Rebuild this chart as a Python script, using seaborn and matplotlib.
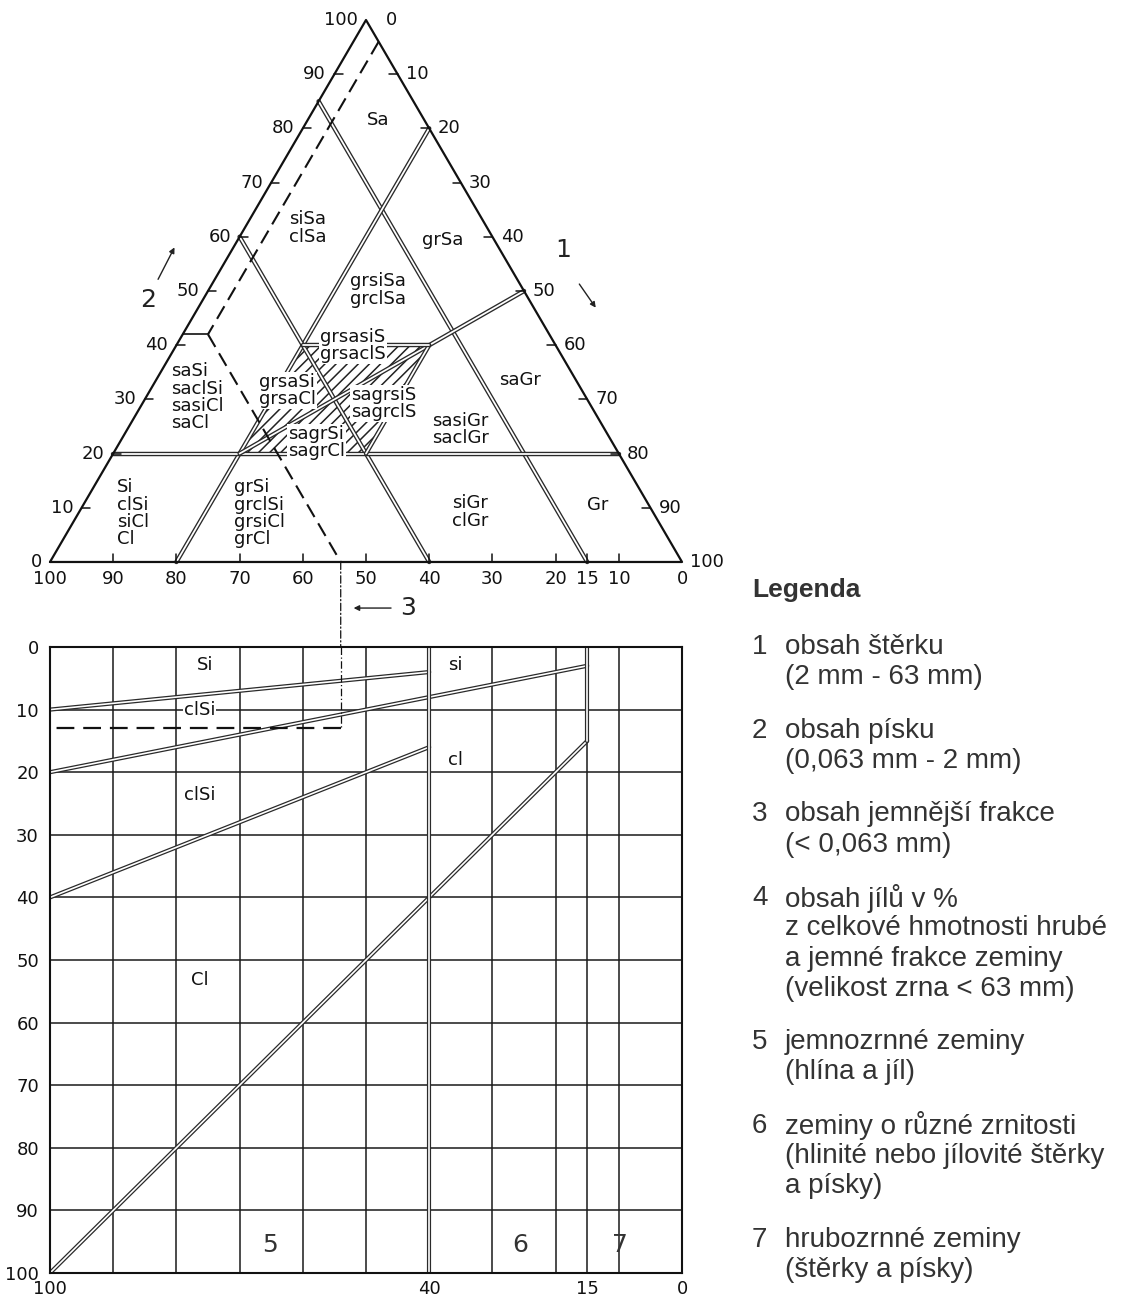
import numpy as np
import seaborn as sns
import matplotlib.pyplot as plt
from matplotlib.patches import ConnectionPatch

sns.set_theme(style="white")
plt.rcParams['font.family'] = ['Liberation Sans Narrow', 'DejaVu Sans']
plt.rcParams['hatch.linewidth'] = 1.1
plt.rcParams['hatch.color'] = '#222222'

# --- ternary diagram (gravel %, sand %), fines = 100 - gravel - sand ---
# boundary lines: start and end points
bound_g0 = [0, 20, 0, 0, 50, 40, 20]
bound_s0 = [85, 80, 60, 20, 50, 40, 40]
bound_g1 = [85, 20, 60, 80, 20, 40, 40]
bound_s1 = [0, 0, 0, 20, 20, 20, 40]

# hatched field (mixed soils)
hatch_g = [20, 40, 40, 20]
hatch_s = [40, 40, 20, 20]

# soil names in the ternary diagram
tern_names = ["Sa", "siSa\nclSa", "grSa", "grsiSa\ngrclSa", "grsasiS\ngrsaclS",
              "grsaSi\ngrsaCl", "sagrsiS\nsagrclS", "sagrSi\nsagrCl",
              "saSi\nsaclSi\nsasiCl\nsaCl", "sasiGr\nsaclGr", "saGr",
              "Si\nclSi\nsiCl\nCl", "grSi\ngrclSi\ngrsiCl\ngrCl", "siGr\nclGr", "Gr"]
tern_name_g = [11.2, 10.0, 32.5, 26.8, 27.9, 21.7, 38.1, 31.2, 8.1, 52.7, 57.6, 8.6, 28.7, 61.9, 81.4]
tern_name_s = [81.5, 61.6, 59.4, 50.2, 40.0, 31.7, 29.3, 22.0, 30.4, 24.4, 33.6, 9.0, 9.0, 9.2, 10.5]
boxed_names = ["grsasiS\ngrsaclS", "grsaSi\ngrsaCl", "sagrsiS\nsagrclS", "sagrSi\nsagrCl"]

tick_vals = list(range(0, 101, 10))
bottom_vals = [100, 90, 80, 70, 60, 50, 40, 30, 20, 15, 10, 0]

# worked example: gravel 4 %, sand 42 %, fines 54 %, clay 13 %
ex_gravel = 4
ex_sand = 42
ex_fines = 54
ex_clay = 13

# --- lower chart: fines % (x) vs clay % (y) ---
clay_f0 = [100, 100, 100, 100, 40, 15]
clay_c0 = [10, 20, 40, 100, 0, 0]
clay_f1 = [40, 15, 40, 15, 40, 15]
clay_c1 = [4, 3, 16, 15, 100, 15]
grid_fines = [90, 80, 70, 60, 50, 40, 30, 20, 15, 10]
grid_clay = [10, 20, 30, 40, 50, 60, 70, 80, 90]
chart_names = ["Si", "si", "clSi", "cl", "clSi", "Cl"]
chart_name_f = [75.5, 35.9, 76.3, 35.9, 76.3, 76.3]
chart_name_c = [2.9, 2.9, 10.1, 18.1, 23.6, 53.2]
zone_names = ["5", "6", "7"]
zone_f = [65.2, 25.6, 9.8]
zone_c = [95.5, 95.5, 95.5]

legend_nums = ["1", "2", "3", "4", "5", "6", "7"]
legend_text = [
    ["obsah štěrku", "(2 mm - 63 mm)"],
    ["obsah písku", "(0,063 mm - 2 mm)"],
    ["obsah jemnější frakce", "(< 0,063 mm)"],
    ["obsah jílů v %", "z celkové hmotnosti hrubé", "a jemné frakce zeminy",
     "(velikost zrna < 63 mm)"],
    ["jemnozrnné zeminy", "(hlína a jíl)"],
    ["zeminy o různé zrnitosti", "(hlinité nebo jílovité štěrky", "a písky)"],
    ["hrubozrnné zeminy", "(štěrky a písky)"],
]

W, H = 1124, 1300
fig = plt.figure(figsize=(W / 100, H / 100), dpi=100)
fig.patch.set_facecolor('white')


def txy(g, s):
    g = np.asarray(g, dtype=float)
    s = np.asarray(s, dtype=float)
    return g + s / 2, s


def line(ax, x, y, color='#111111', lw=1.5, ls='-'):
    x = np.asarray(x, dtype=float).ravel()
    y = np.asarray(y, dtype=float).ravel()
    sns.lineplot(x=x, y=y, ax=ax, color=color, linewidth=lw, linestyle=ls,
                 sort=False, estimator=None)


def double_line(ax, x, y, lw=3.2):
    line(ax, x, y, color='#2a2a2a', lw=lw)
    line(ax, x, y, color='white', lw=lw * 0.4)


# ================= ternary =================
ax_t = fig.add_axes([0, 1 - 630 / H, 720 / W, 630 / H])

hx, hy = txy(hatch_g, hatch_s)
ax_t.fill(hx, hy, facecolor='none', edgecolor='#222222', hatch='///', lw=0)

for g0, s0, g1, s1 in zip(bound_g0, bound_s0, bound_g1, bound_s1):
    x, y = txy([g0, g1], [s0, s1])
    double_line(ax_t, x, y)

# outline
line(ax_t, [0, 50, 100, 0], [0, 100, 0, 0], lw=1.6)

# example dashed lines
x, y = txy([ex_gravel, ex_gravel], [100 - ex_gravel, ex_sand])
line(ax_t, x, y, lw=1.5, ls=(0, (7, 3.5)))
x, y = txy([ex_gravel, 100 - ex_fines], [ex_sand, 0])
line(ax_t, x, y, lw=1.5, ls=(0, (7, 3.5)))
x, y = txy([0, ex_gravel], [ex_sand, ex_sand])
line(ax_t, x, y, lw=1.2)

tk = dict(fontsize=13, color='#111111')
for v in tick_vals:
    # sand on left edge
    x, y = txy(0, v)
    ax_t.annotate(str(v), (float(x), float(y)), xytext=(-6, 0), textcoords='offset points',
                  ha='right', va='center', **tk)
    if 0 < v < 100:
        line(ax_t, [x, x + 1.3], [y, y], lw=1.1)
    # gravel on right edge
    x, y = txy(v, 100 - v)
    off = 14 if v == 0 else 6
    ax_t.annotate(str(v), (float(x), float(y)), xytext=(off, 0), textcoords='offset points',
                  ha='left', va='center', **tk)
    if 0 < v < 100:
        line(ax_t, [x, x - 1.3], [y, y], lw=1.1)
for v in bottom_vals:
    x, y = txy(100 - v, 0)
    ax_t.annotate(str(v), (float(x), float(y)), xytext=(0, -6), textcoords='offset points',
                  ha='center', va='top', **tk)
    if 0 < v < 100:
        line(ax_t, [x, x], [0, 1.4], lw=1.1)

for name, g, s in zip(tern_names, tern_name_g, tern_name_s):
    x, y = txy(g, s)
    box = dict(facecolor='white', edgecolor='none', pad=0.6) if name in boxed_names else None
    ax_t.text(float(x), float(y), name, ha='center', va='center', multialignment='left',
              fontsize=13, linespacing=0.95, color='#111111', bbox=box)

# axis captions 1, 2, 3 with arrows
ax_t.text(15.5, 48.3, "2", fontsize=18, ha='center', va='center', color='#222222')
ax_t.annotate("", xy=(19.9, 58.5), xytext=(16.9, 51.7),
              arrowprops=dict(arrowstyle='-|>', color='#222222', lw=1.0, mutation_scale=8))
ax_t.text(81.2, 57.6, "1", fontsize=18, ha='center', va='center', color='#222222')
ax_t.annotate("", xy=(86.6, 46.5), xytext=(83.5, 51.7),
              arrowprops=dict(arrowstyle='-|>', color='#222222', lw=1.0, mutation_scale=8))
ax_t.text(56.6, -8.5, "3", fontsize=18, ha='center', va='center', color='#222222')
ax_t.annotate("", xy=(47.6, -8.5), xytext=(54.4, -8.5), annotation_clip=False,
              arrowprops=dict(arrowstyle='-|>', color='#222222', lw=1.0, mutation_scale=8))

ax_t.set_xlim(-7.91, 106.01)
ax_t.set_ylim(-12.55, 103.69)
ax_t.axis('off')

# ================= lower chart =================
ax_c = fig.add_axes([50 / W, (H - 1273) / H, 632 / W, 626 / H])
for v in grid_fines:
    line(ax_c, [v, v], [0, 100], lw=1.1, color='#1a1a1a')
for v in grid_clay:
    line(ax_c, [0, 100], [v, v], lw=1.1, color='#1a1a1a')

for f0, c0, f1, c1 in zip(clay_f0, clay_c0, clay_f1, clay_c1):
    double_line(ax_c, [f0, f1], [c0, c1], lw=3.0)

line(ax_c, [ex_fines, ex_fines], [0, ex_clay], lw=0.9, ls=(0, (6, 2, 1, 2)))
line(ax_c, [ex_fines, 100], [ex_clay, ex_clay], lw=1.6, ls=(0, (8, 4)))

for i, (name, f, c) in enumerate(zip(chart_names, chart_name_f, chart_name_c)):
    box = dict(facecolor='white', edgecolor='none', pad=0.5) if i == 2 else None
    ax_c.text(f, c, name, ha='center', va='center', fontsize=13, color='#111111', bbox=box)
for name, f, c in zip(zone_names, zone_f, zone_c):
    ax_c.text(f, c, name, ha='center', va='center', fontsize=18, color='#333333')

ax_c.set_xlim(100, 0)
ax_c.set_ylim(100, 0)
ax_c.set_xticks([100, 40, 15, 0])
ax_c.set_xticklabels(["100", "40", "15", "0"])
ax_c.set_yticks(tick_vals)
ax_c.set_yticklabels([str(v) for v in tick_vals])
ax_c.tick_params(length=0, labelsize=13, colors='#111111')
ax_c.tick_params(axis='y', pad=8)
ax_c.tick_params(axis='x', pad=5)
for sp in ax_c.spines.values():
    sp.set_color('#111111')
    sp.set_linewidth(1.5)

# dashed link from the ternary base down to the lower chart
xb, yb = txy(100 - ex_fines, 0)
con = ConnectionPatch(xyA=(float(xb), float(yb)), coordsA=ax_t.transData,
                      xyB=(ex_fines, 0), coordsB=ax_c.transData,
                      ls=(0, (6, 2, 1, 2)), lw=0.9, color='#111111')
fig.add_artist(con)

# ================= legend text =================
lg = dict(family=['Liberation Sans', 'DejaVu Sans'], color='#333333')
fig.text(752 / W, 1 - 590 / H, "Legenda", fontsize=19, fontweight='bold', va='center', **lg)
y = 647
for num, rows in zip(legend_nums, legend_text):
    fig.text(752 / W, 1 - y / H, num, fontsize=20, va='center', **lg)
    for i, row in enumerate(rows):
        fig.text(785 / W, 1 - (y + i * 30.2) / H, row, fontsize=20, va='center', **lg)
    y = y + (len(rows) - 1) * 30.2 + 53.5

fig.savefig("out.png", dpi=100, facecolor='white')
